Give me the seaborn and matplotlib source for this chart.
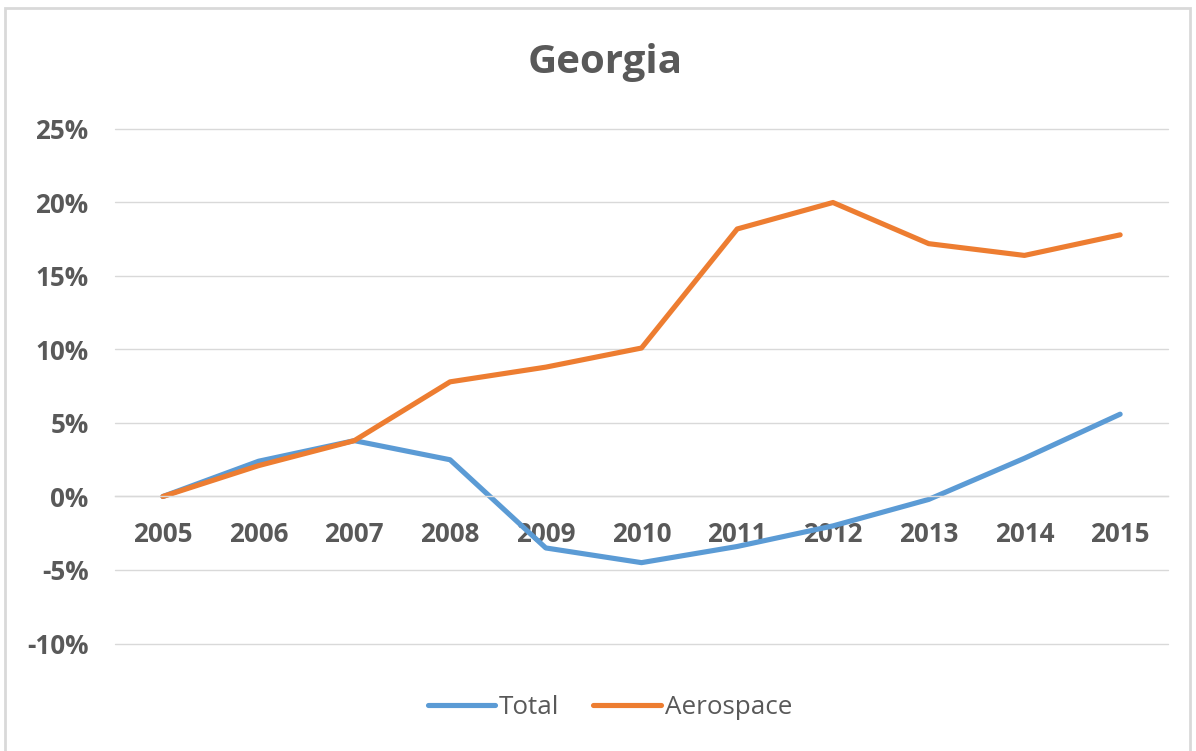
import numpy as np
import pandas as pd
import matplotlib
matplotlib.use('Agg')
import matplotlib.pyplot as plt
import seaborn as sns
from matplotlib.patches import Rectangle
from matplotlib.ticker import PercentFormatter

years = [2005, 2006, 2007, 2008, 2009, 2010, 2011, 2012, 2013, 2014, 2015]
total = [0.000, 0.024, 0.038, 0.025, -0.035, -0.045, -0.034, -0.020, -0.002, 0.026, 0.056]
aerospace = [0.000, 0.021, 0.038, 0.078, 0.088, 0.101, 0.182, 0.200, 0.172, 0.164, 0.178]
series_names = ['Total', 'Aerospace']
colors = ['#5B9BD5', '#ED7D31']
y_ticks = [-0.10, -0.05, 0.0, 0.05, 0.10, 0.15, 0.20, 0.25]

df = pd.DataFrame({'Year': years * 2,
                   'Value': total + aerospace,
                   'Series': [series_names[0]] * len(years) + [series_names[1]] * len(years)})

sns.set_theme(style='white')
plt.rcParams['font.family'] = ['Open Sans', 'DejaVu Sans']
plt.rcParams['axes.unicode_minus'] = False

text_gray = '#595959'
grid_gray = '#D9D9D9'

fig = plt.figure(figsize=(11.96, 7.51), dpi=100)
ax = fig.add_axes([115 / 1196, 1 - 643.5 / 751, (1168 - 115) / 1196, (643.5 - 129) / 751])

sns.lineplot(data=df, x='Year', y='Value', hue='Series', palette=colors,
             linewidth=3.7, ax=ax, legend=False, solid_capstyle='round',
             solid_joinstyle='round')

ax.set_xlim(2004.5, 2015.5)
ax.set_ylim(-0.10, 0.25)
ax.set_yticks(y_ticks)
ax.yaxis.set_major_formatter(PercentFormatter(1.0, decimals=0))
ax.set_xticks(years)
ax.set_xticklabels([str(y) for y in years])
ax.grid(axis='y', color=grid_gray, linewidth=1.0)
for gl in ax.get_ygridlines():
    gl.set_clip_on(False)
ax.set_axisbelow(True)
for s in ['top', 'right', 'left']:
    ax.spines[s].set_visible(False)
ax.spines['bottom'].set_position(('data', 0))
ax.spines['bottom'].set_color(grid_gray)
ax.spines['bottom'].set_linewidth(1.0)
ax.tick_params(axis='x', length=0, pad=18, labelsize=18.7, labelcolor=text_gray)
ax.tick_params(axis='y', length=0, pad=19, labelsize=18.7, labelcolor=text_gray)
for lbl in ax.get_xticklabels() + ax.get_yticklabels():
    lbl.set_fontweight('bold')
ax.set_xlabel('')
ax.set_ylabel('')

fig.text(605 / 1196, 1 - 62 / 751, 'Georgia', ha='center', va='center',
         fontsize=29, fontweight='bold', color=text_gray)

handles = [plt.Line2D([], [], color=c, linewidth=3.7, solid_capstyle='round') for c in colors]
leg = fig.legend(handles, series_names, loc='center', bbox_to_anchor=(610 / 1196, 1 - 708 / 751),
                 ncol=2, frameon=False, fontsize=18.7, handlelength=2.6,
                 handletextpad=0.15, columnspacing=1.3)
for t in leg.get_texts():
    t.set_color(text_gray)

fig.patches.append(Rectangle((5 / 1196, -0.05), (1190 - 5) / 1196, 1.05 - 8 / 751,
                             transform=fig.transFigure, fill=False,
                             edgecolor=grid_gray, linewidth=2))

fig.savefig('out.png', dpi=100)
